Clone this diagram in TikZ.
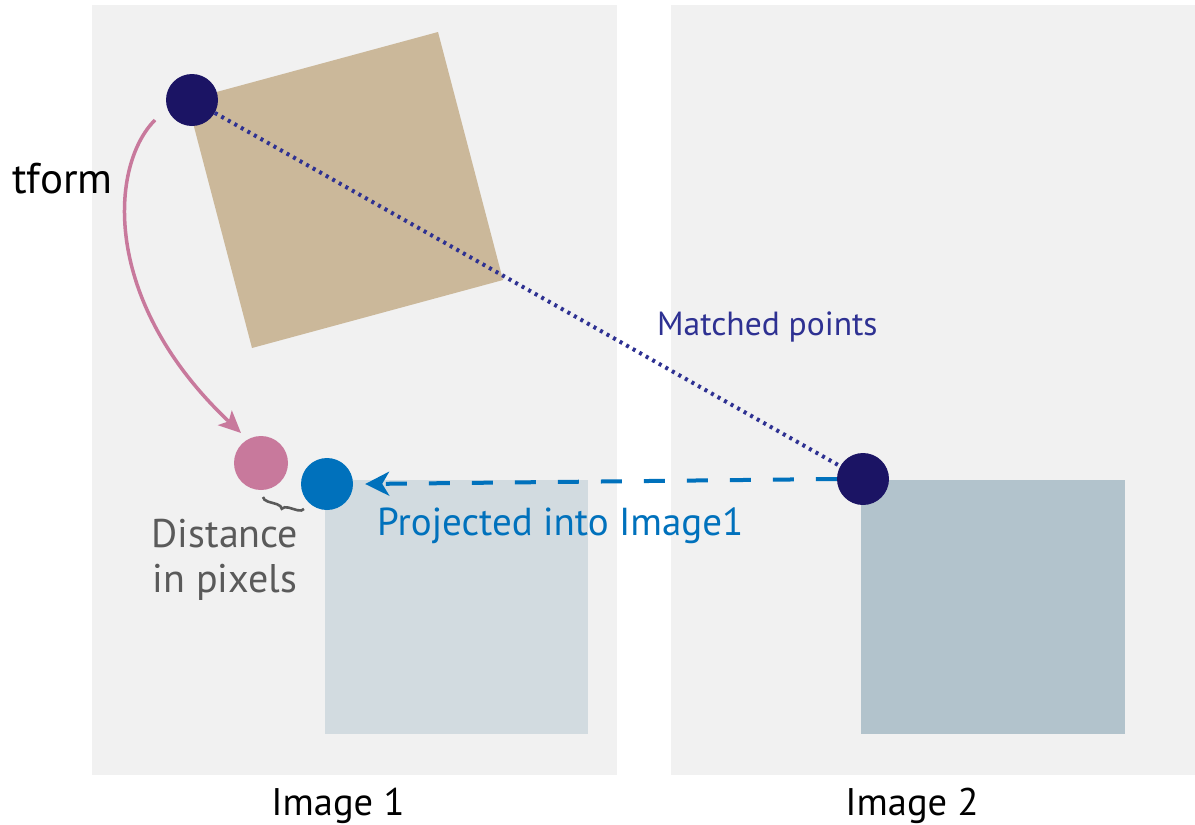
\documentclass[tikz,border=0pt]{standalone}
\usepackage{fontspec}
\setmainfont{PT Sans}
\usetikzlibrary{arrows.meta,decorations.pathreplacing}
\definecolor{panelgray}{HTML}{F1F1F1}
\definecolor{tan}{HTML}{CBB89A}
\definecolor{navy}{HTML}{1B1464}
\definecolor{matchc}{HTML}{2E3192}
\definecolor{pinkc}{HTML}{C8799C}
\definecolor{bluec}{HTML}{0071BC}
\definecolor{sqone}{HTML}{D2DBE0}
\definecolor{sqtwo}{HTML}{B2C3CC}
\definecolor{graytext}{HTML}{5A5A5A}
\tikzset{
  panel/.style={fill=panelgray, draw=none},
  pt/.style={circle, minimum size=52pt, inner sep=0pt, draw=none},
  lbl/.style={inner sep=0pt, anchor=base west},
}
\begin{document}
\begin{tikzpicture}[x=1pt,y=-1pt]
\useasboundingbox (0,0) rectangle (1195,825);
\fill[white] (0,0) rectangle (1195,825);
% panels
\fill[panelgray] (92,5) rectangle (617,775);
\fill[panelgray] (671,5) rectangle (1195,775);
% squares
\fill[sqone] (325,480) rectangle (588,734);
\fill[sqtwo] (861,480) rectangle (1125,734);
\fill[tan] (187,100) -- (438,32) -- (503,280) -- (252,348) -- cycle;
% points
\node[pt, fill=navy] (p1) at (192,100) {};
\node[pt, fill=navy] (p2) at (863,479) {};
\node[pt, fill=pinkc, minimum size=54pt] (pp) at (261,463) {};
\node[pt, fill=bluec] (pb) at (327,484) {};
% matched line
\draw[matchc, line width=4pt, dash pattern=on 3pt off 4.5pt] (p1) -- (p2);
% projection arrow
\draw[bluec, line width=4pt, dash pattern=on 21pt off 22pt,
  -{Stealth[length=24pt,width=24pt,inset=7pt]}] (p2.west) -- ([xshift=12pt]pb.east);
% tform arrow
\coordinate (ts) at (155,120);
\coordinate (te) at (241,433);
\draw[pinkc, line width=3.5pt, -{Stealth[length=22pt,width=20pt,inset=5pt]}]
  (ts) .. controls (110,165) and (100,300) .. (te);
% brace
\coordinate (b1) at (263,497);
\coordinate (b2) at (304,509);
\draw[graytext, line width=2.6pt, decorate, decoration={brace, amplitude=6pt, mirror}] (b1) -- (b2);
% labels
\node[lbl, font=\fontsize{43}{46}\selectfont, text=black] (tf) at (12,193) {tform};
\node[lbl, font=\fontsize{33.5}{36}\selectfont, text=matchc] (mp) at (657,335) {Matched points};
\node[lbl, font=\fontsize{39}{42}\selectfont, text=bluec] (pj) at (377,535) {Projected into Image1};
\node[inner sep=0pt, anchor=base, align=center, text=graytext,
  font=\fontsize{40}{45}\selectfont] (dp) at (225,592) {Distance\\in pixels};
\node[inner sep=0pt, anchor=base, font=\fontsize{38.5}{40}\selectfont] (i1) at (338,815) {Image 1};
\node[inner sep=0pt, anchor=base, font=\fontsize{38.5}{40}\selectfont] (i2) at (912,815) {Image 2};
\end{tikzpicture}
\end{document}
